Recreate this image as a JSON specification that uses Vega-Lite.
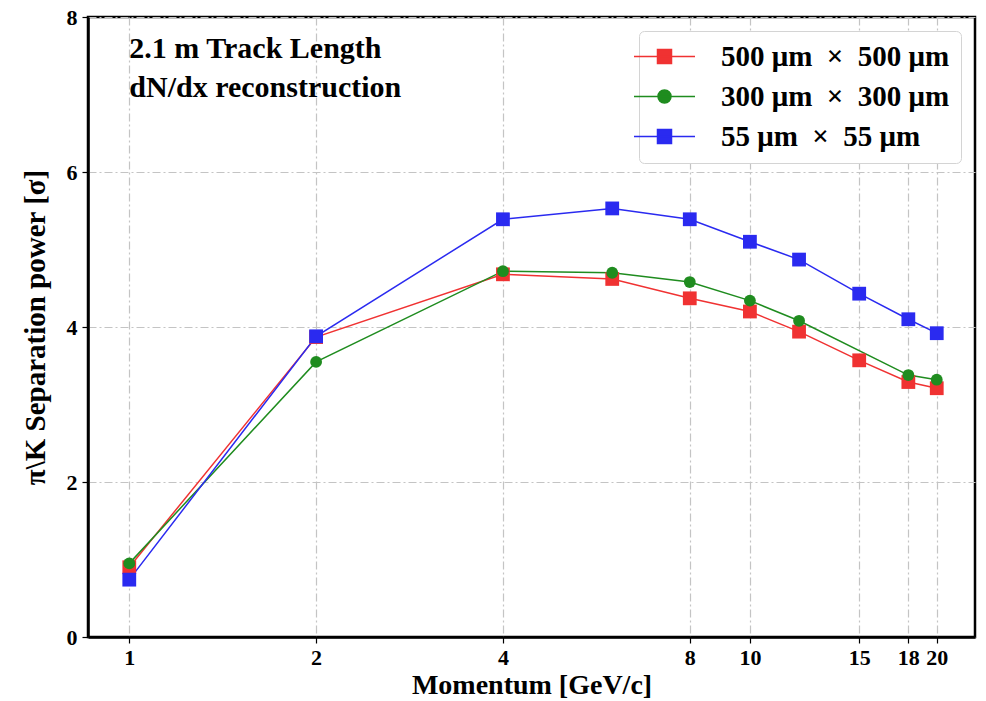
{
  "$schema": "https://vega.github.io/schema/vega-lite/v6.json",
  "width": 887,
  "height": 620,
  "autosize": {"type": "none"},
  "padding": {"left": 88, "top": 17, "right": 11, "bottom": 64},
  "background": "white",
  "config": {
    "view": {"stroke": "black", "strokeWidth": 2.5},
    "font": "Liberation Serif",
    "axis": {
      "labelFont": "Liberation Serif",
      "labelFontWeight": "bold",
      "labelFontSize": 22,
      "labelColor": "black",
      "titleFont": "Liberation Serif",
      "titleFontWeight": "bold",
      "titleFontSize": 29,
      "titleColor": "black",
      "domainColor": "black",
      "domainWidth": 2.5,
      "tickColor": "black",
      "tickWidth": 1.2,
      "tickSize": 6,
      "grid": true,
      "gridColor": "#c4c4c4",
      "gridWidth": 1.2,
      "gridDash": [8, 3, 2, 3]
    },
    "legend": {
      "orient": "top-right",
      "offset": 14,
      "labelFont": "Liberation Serif",
      "labelFontSize": 29,
      "labelFontWeight": "bold",
      "labelColor": "black",
      "labelLimit": 400,
      "labelOffset": 42,
      "symbolSize": 400,
      "symbolStrokeWidth": 1.5,
      "symbolOpacity": 1,
      "rowPadding": 10,
      "padding": 11,
      "strokeColor": "#d4d4d4",
      "fillColor": "white",
      "cornerRadius": 5
    }
  },
  "datasets": {
    "main": [
      {"p": 1, "series": "500 μm \u00a0× \u00a0500 μm", "v": 0.90},
      {"p": 2, "series": "500 μm \u00a0× \u00a0500 μm", "v": 3.87},
      {"p": 4, "series": "500 μm \u00a0× \u00a0500 μm", "v": 4.68},
      {"p": 6, "series": "500 μm \u00a0× \u00a0500 μm", "v": 4.62},
      {"p": 8, "series": "500 μm \u00a0× \u00a0500 μm", "v": 4.37},
      {"p": 10, "series": "500 μm \u00a0× \u00a0500 μm", "v": 4.20},
      {"p": 12, "series": "500 μm \u00a0× \u00a0500 μm", "v": 3.94},
      {"p": 15, "series": "500 μm \u00a0× \u00a0500 μm", "v": 3.57},
      {"p": 18, "series": "500 μm \u00a0× \u00a0500 μm", "v": 3.29},
      {"p": 20, "series": "500 μm \u00a0× \u00a0500 μm", "v": 3.21},
      {"p": 1, "series": "300 μm \u00a0× \u00a0300 μm", "v": 0.95},
      {"p": 2, "series": "300 μm \u00a0× \u00a0300 μm", "v": 3.55},
      {"p": 4, "series": "300 μm \u00a0× \u00a0300 μm", "v": 4.72},
      {"p": 6, "series": "300 μm \u00a0× \u00a0300 μm", "v": 4.70},
      {"p": 8, "series": "300 μm \u00a0× \u00a0300 μm", "v": 4.58},
      {"p": 10, "series": "300 μm \u00a0× \u00a0300 μm", "v": 4.34},
      {"p": 12, "series": "300 μm \u00a0× \u00a0300 μm", "v": 4.08},
      {"p": 18, "series": "300 μm \u00a0× \u00a0300 μm", "v": 3.38},
      {"p": 20, "series": "300 μm \u00a0× \u00a0300 μm", "v": 3.32},
      {"p": 1, "series": "55 μm \u00a0× \u00a055 μm", "v": 0.74},
      {"p": 2, "series": "55 μm \u00a0× \u00a055 μm", "v": 3.88},
      {"p": 4, "series": "55 μm \u00a0× \u00a055 μm", "v": 5.39},
      {"p": 6, "series": "55 μm \u00a0× \u00a055 μm", "v": 5.53},
      {"p": 8, "series": "55 μm \u00a0× \u00a055 μm", "v": 5.39},
      {"p": 10, "series": "55 μm \u00a0× \u00a055 μm", "v": 5.10},
      {"p": 12, "series": "55 μm \u00a0× \u00a055 μm", "v": 4.87},
      {"p": 15, "series": "55 μm \u00a0× \u00a055 μm", "v": 4.43},
      {"p": 18, "series": "55 μm \u00a0× \u00a055 μm", "v": 4.10},
      {"p": 20, "series": "55 μm \u00a0× \u00a055 μm", "v": 3.92}
    ],
    "notes": [
      {"p": 1, "v": 7.47, "t": "2.1 m Track Length"},
      {"p": 1, "v": 6.97, "t": "dN/dx reconstruction"}
    ]
  },
  "layer": [
    {
      "data": {"name": "main"},
      "mark": {"type": "line", "strokeWidth": 1.5},
      "encoding": {
        "x": {
          "field": "p", "type": "quantitative",
          "scale": {"type": "log", "domain": [0.858, 23.05], "nice": false},
          "axis": {"values": [1, 2, 4, 8, 10, 15, 18, 20], "format": "d", "title": "Momentum [GeV/c]", "titleFontSize": 28, "labelPadding": 4, "titlePadding": 3}
        },
        "y": {
          "field": "v", "type": "quantitative",
          "scale": {"domain": [0, 8], "nice": false},
          "axis": {"values": [0, 2, 4, 6, 8], "format": "d", "title": "π\\K Separation power [σ]", "labelPadding": 5, "titlePadding": 16}
        },
        "color": {
          "field": "series", "type": "nominal",
          "scale": {"domain": ["500 μm \u00a0× \u00a0500 μm", "300 μm \u00a0× \u00a0300 μm", "55 μm \u00a0× \u00a055 μm"], "range": ["#f03232", "#1f8c1f", "#2a2af0"]},
          "legend": {"title": null}
        }
      }
    },
    {
      "data": {"name": "main"},
      "transform": [{"filter": "indexof(datum.series, '300') < 0"}],
      "mark": {"type": "point", "filled": true, "opacity": 1, "shape": "square", "size": 190},
      "encoding": {
        "x": {"field": "p", "type": "quantitative"},
        "y": {"field": "v", "type": "quantitative"},
        "color": {"field": "series", "type": "nominal"}
      }
    },
    {
      "data": {"name": "main"},
      "transform": [{"filter": "indexof(datum.series, '300') >= 0"}],
      "mark": {"type": "point", "filled": true, "opacity": 1, "shape": "circle", "size": 140},
      "encoding": {
        "x": {"field": "p", "type": "quantitative"},
        "y": {"field": "v", "type": "quantitative"},
        "color": {"field": "series", "type": "nominal"}
      }
    },
    {
      "data": {"name": "main"},
      "mark": {"type": "point", "filled": true, "opacity": 0},
      "encoding": {
        "x": {"field": "p", "type": "quantitative"},
        "y": {"field": "v", "type": "quantitative"},
        "color": {"field": "series", "type": "nominal"},
        "shape": {
          "field": "series", "type": "nominal",
          "scale": {
            "domain": ["500 μm \u00a0× \u00a0500 μm", "300 μm \u00a0× \u00a0300 μm", "55 μm \u00a0× \u00a055 μm"],
            "range": [
              "M-3.05,0H3.05M-0.7,-0.7H0.7V0.7H-0.7Z",
              "M-3.05,0H3.05M-0.65,0A0.65,0.65,0,1,1,0.65,0A0.65,0.65,0,1,1,-0.65,0Z",
              "M-3.05,0H3.05M-0.7,-0.7H0.7V0.7H-0.7Z"
            ]
          },
          "legend": {
            "title": null,
            "symbolOpacity": 1,
            "encode": {
              "symbols": {
                "update": {
                  "fill": {"scale": "color", "field": "value"},
                  "stroke": {"scale": "color", "field": "value"},
                  "opacity": {"value": 1}
                }
              }
            }
          }
        }
      }
    },
    {
      "data": {"name": "notes"},
      "mark": {"type": "text", "align": "left", "baseline": "alphabetic", "font": "Liberation Serif", "fontWeight": "bold", "fontSize": 30, "color": "black"},
      "encoding": {
        "x": {"field": "p", "type": "quantitative"},
        "y": {"field": "v", "type": "quantitative"},
        "text": {"field": "t"}
      }
    }
  ]
}
